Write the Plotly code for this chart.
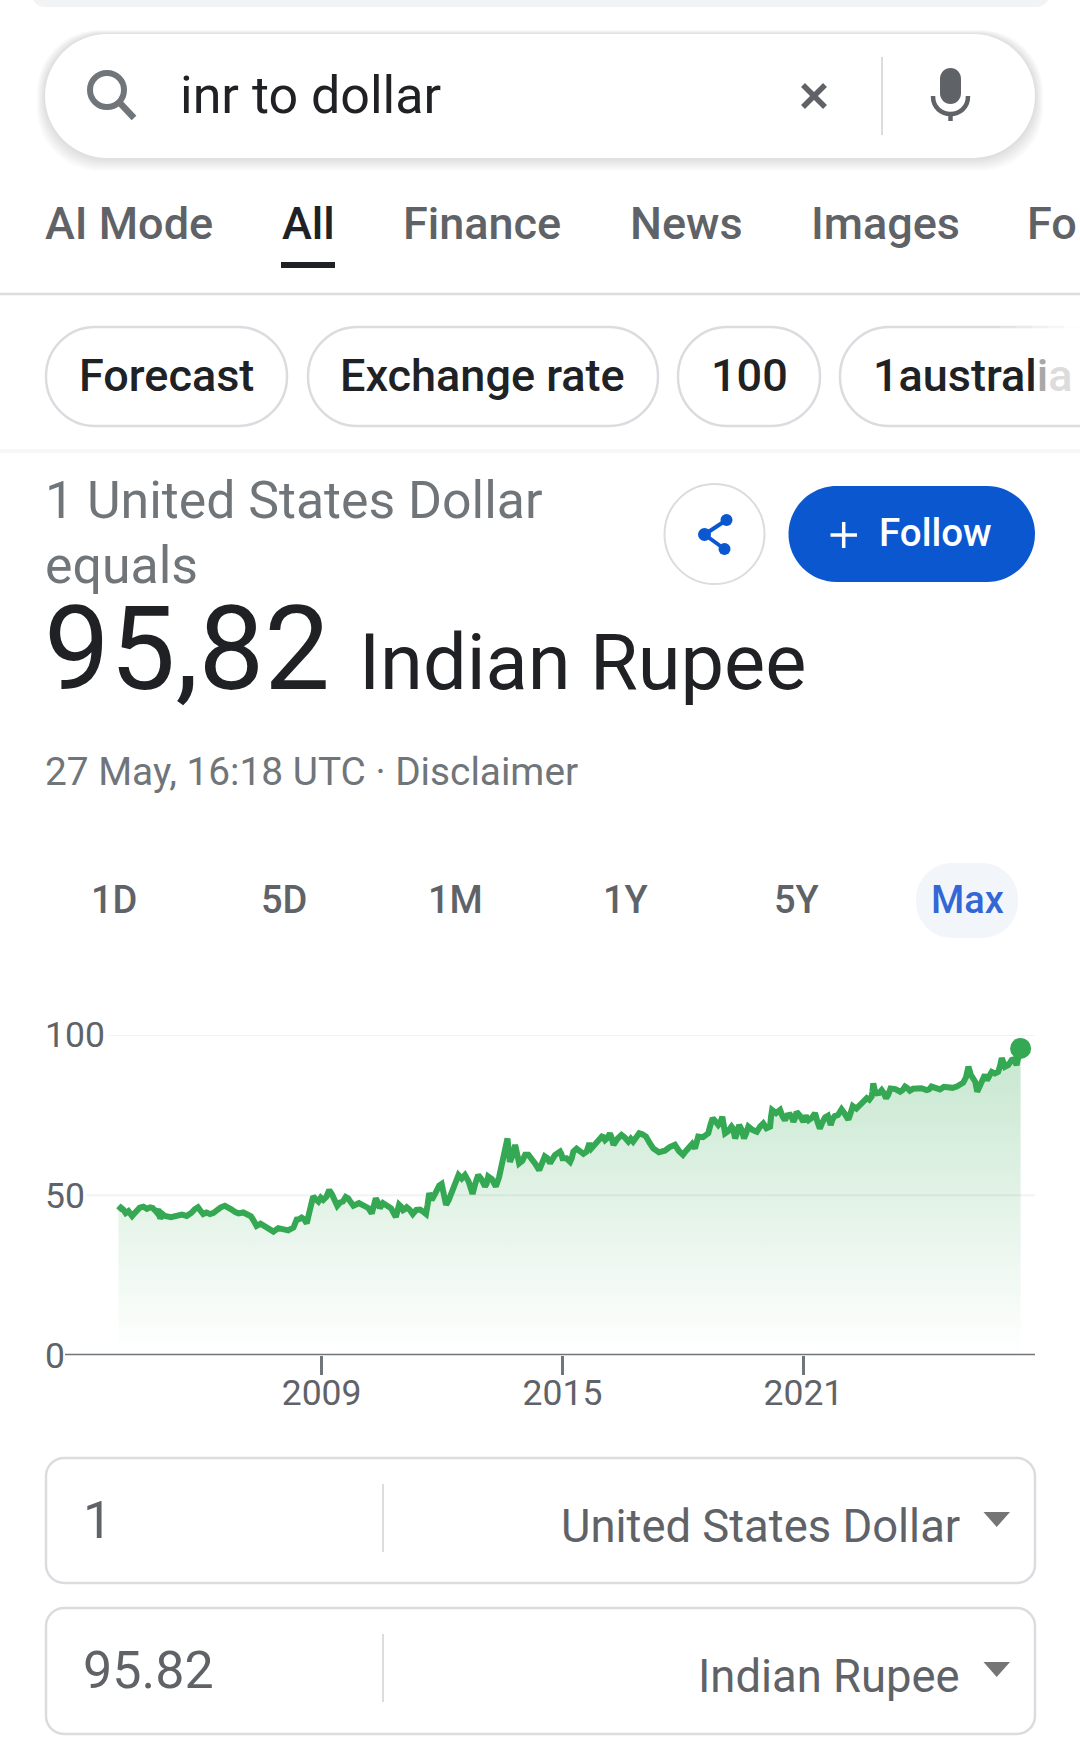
import plotly.graph_objects as go

W = 1080
H = 1750

# chart data
years = [2003.94, 2004.06, 2004.19, 2004.28, 2004.38, 2004.56, 2004.73, 2004.85, 2004.93, 2004.98,
         2005.10, 2005.39, 2005.64, 2005.76, 2005.92, 2006.05, 2006.22, 2006.39, 2006.59, 2006.76,
         2006.93, 2007.17, 2007.30, 2007.38, 2007.59, 2007.80, 2008.05, 2008.30, 2008.38, 2008.50,
         2008.63, 2008.79, 2008.92, 2009.04, 2009.19, 2009.33, 2009.39, 2009.53, 2009.66, 2009.79,
         2010.08, 2010.25, 2010.35, 2010.45, 2010.62, 2010.85, 2010.93, 2011.03, 2011.12, 2011.27,
         2011.45, 2011.60, 2011.68, 2011.74, 2011.87, 2011.99, 2012.10, 2012.24, 2012.41, 2012.57,
         2012.76, 2012.90, 2013.07, 2013.15, 2013.34, 2013.49, 2013.63, 2013.69, 2013.82, 2013.92,
         2014.07, 2014.23, 2014.42, 2014.56, 2014.69, 2014.94, 2015.00, 2015.19, 2015.27, 2015.44,
         2015.60, 2015.67, 2015.77, 2015.98, 2016.06, 2016.18, 2016.27, 2016.47, 2016.64, 2016.76,
         2016.91, 2017.08, 2017.26, 2017.55, 2017.80, 2018.00, 2018.17, 2018.30, 2018.38, 2018.63,
         2018.74, 2018.88, 2018.98, 2019.05, 2019.21, 2019.30, 2019.40, 2019.52, 2019.63, 2019.84,
         2020.00, 2020.17, 2020.22, 2020.42, 2020.54, 2020.67, 2020.75, 2020.83, 2021.00, 2021.13,
         2021.29, 2021.41, 2021.54, 2021.68, 2021.78, 2021.95, 2022.12, 2022.23, 2022.41, 2022.58,
         2022.70, 2022.74, 2022.83, 2022.95, 2023.06, 2023.17, 2023.41, 2023.53, 2023.65, 2023.82,
         2024.07, 2024.19, 2024.40, 2024.61, 2024.82, 2024.98, 2025.11, 2025.23, 2025.33, 2025.48,
         2025.57, 2025.69, 2025.85, 2025.94, 2026.02, 2026.19, 2026.31, 2026.41]
rates = [45.3, 45.5, 45.0, 43.5, 45.0, 46.4, 46.2, 45.3, 45.6, 42.7,
         43.5, 43.5, 43.5, 44.5, 46.2, 44.1, 44.1, 45.3, 46.7, 45.5,
         44.3, 44.0, 42.2, 40.4, 40.4, 38.6, 39.3, 39.9, 42.4, 43.0,
         41.2, 49.6, 48.0, 48.5, 51.6, 48.5, 46.7, 48.0, 49.0, 46.7,
         46.7, 44.3, 49.0, 46.0, 47.0, 43.2, 47.0, 45.3, 46.2, 44.1,
         45.5, 44.1, 50.6, 48.5, 51.6, 53.5, 47.0, 51.1, 56.3, 56.3,
         50.4, 56.3, 52.7, 55.8, 52.7, 60.0, 67.7, 60.4, 65.7, 59.9,
         62.6, 60.9, 57.8, 62.1, 60.0, 63.6, 61.5, 60.4, 63.6, 63.6,
         63.6, 66.2, 65.2, 68.3, 67.2, 69.3, 65.7, 68.8, 66.7, 66.7,
         69.3, 68.3, 64.6, 63.9, 65.7, 62.6, 65.2, 64.6, 68.3, 69.3,
         74.0, 71.9, 74.5, 69.3, 71.4, 67.7, 71.9, 67.7, 71.4, 69.8,
         72.4, 71.4, 76.6, 76.6, 73.4, 75.1, 72.9, 76.0, 72.9, 73.4,
         75.6, 70.8, 74.3, 71.9, 74.7, 76.8, 73.6, 77.8, 78.2, 80.3,
         80.8, 84.9, 81.8, 82.8, 80.3, 83.3, 82.3, 83.9, 82.6, 83.3,
         82.8, 83.9, 83.0, 83.6, 83.9, 85.1, 90.1, 86.4, 82.3, 87.5,
         85.9, 88.5, 88.5, 92.8, 90.1, 92.2, 90.6, 95.82]
# in-between readings, from the edges of the fuzzy band
band_years = [2004.00, 2004.12, 2004.23, 2004.33, 2004.47, 2004.65, 2004.79, 2004.89, 2004.955, 2005.04,
              2005.25, 2005.52, 2005.70, 2005.84, 2005.98, 2006.13, 2006.30, 2006.49, 2006.67, 2006.85,
              2007.05, 2007.24, 2007.34, 2007.48, 2007.70, 2007.92, 2008.17, 2008.34, 2008.44, 2008.57,
              2008.71, 2008.85, 2008.98, 2009.12, 2009.26, 2009.36, 2009.46, 2009.60, 2009.72, 2009.93,
              2010.16, 2010.30, 2010.40, 2010.53, 2010.73, 2010.89, 2010.98, 2011.07, 2011.19, 2011.36,
              2011.52, 2011.64, 2011.71, 2011.80, 2011.93, 2012.05, 2012.17, 2012.32, 2012.49, 2012.66,
              2012.83, 2012.98, 2013.11, 2013.24, 2013.42, 2013.56, 2013.66, 2013.75, 2013.87, 2014.00,
              2014.15, 2014.32, 2014.49, 2014.62, 2014.81, 2014.97, 2015.10, 2015.23, 2015.35, 2015.52,
              2015.63, 2015.72, 2015.87, 2016.02, 2016.12, 2016.22, 2016.37, 2016.55, 2016.70, 2016.83,
              2016.99, 2017.17, 2017.40, 2017.67, 2017.90, 2018.08, 2018.23, 2018.34, 2018.50, 2018.68,
              2018.81, 2018.93, 2019.01, 2019.13, 2019.25, 2019.35, 2019.46, 2019.57, 2019.73, 2019.92,
              2020.08, 2020.195, 2020.32, 2020.48, 2020.60, 2020.71, 2020.79, 2020.91, 2021.06, 2021.21,
              2021.35, 2021.47, 2021.61, 2021.73, 2021.86, 2022.03, 2022.17, 2022.32, 2022.50, 2022.64,
              2022.72, 2022.78, 2022.89, 2023.00, 2023.11, 2023.29, 2023.47, 2023.59, 2023.73, 2023.94,
              2024.13, 2024.30, 2024.50, 2024.71, 2024.90, 2025.05, 2025.17, 2025.28, 2025.40, 2025.52,
              2025.63, 2025.77, 2025.90, 2025.98, 2026.10, 2026.25, 2026.36]
band_rates = [46.1, 44.4, 44.6, 44.2, 46.1, 45.7, 46.0, 44.7, 44.2, 44.1,
              43.1, 43.9, 43.8, 45.6, 45.2, 44.6, 44.4, 46.2, 46.3, 44.7,
              44.6, 43.4, 40.9, 41.1, 39.2, 39.7, 39.0, 41.3, 42.5, 42.4,
              45.5, 48.8, 49.2, 49.5, 50.2, 47.8, 47.7, 49.4, 47.9, 47.5,
              46.0, 46.3, 47.8, 47.5, 45.9, 45.5, 46.4, 45.6, 45.5, 45.4,
              44.9, 47.0, 49.7, 49.8, 53.0, 50.3, 48.6, 54.4, 55.2, 54.3,
              53.7, 55.0, 53.6, 55.0, 55.6, 63.0, 63.6, 62.2, 62.9, 60.7,
              62.6, 59.8, 60.5, 61.6, 62.5, 62.9, 61.5, 61.5, 64.5, 62.9,
              64.8, 64.6, 67.0, 68.1, 67.9, 68.0, 67.6, 68.0, 67.6, 67.9,
              69.0, 66.3, 63.4, 65.0, 63.8, 63.9, 66.0, 66.0, 68.1, 71.7,
              73.0, 72.6, 72.3, 70.0, 70.7, 69.5, 70.5, 69.2, 70.4, 71.4,
              70.9, 74.6, 75.6, 74.6, 74.9, 74.4, 74.0, 74.9, 74.8, 74.1,
              72.9, 72.7, 74.8, 73.8, 75.0, 75.4, 75.4, 77.0, 79.9, 79.8,
              82.4, 82.7, 81.9, 81.9, 81.3, 83.1, 82.8, 83.4, 83.2, 83.4,
              83.0, 83.6, 83.8, 83.5, 84.6, 86.8, 87.6, 85.4, 84.4, 87.6,
              87.2, 88.0, 90.4, 91.5, 90.6, 92.4, 93.5]
x_ticks = [2009, 2015, 2021]
y_ticks = [0, 50, 100]
grid_values = [100, 50]

tab_labels = ['AI Mode', 'All', 'Finance', 'News', 'Images', 'Fo']
chip_labels = ['Forecast', 'Exchange rate', '100']
range_labels = ['1D', '5D', '1M', '1Y', '5Y', 'Max']

GREEN = '#34a853'
BLUE = '#0b57d0'
DARK = '#202124'
GRAY = '#5f6368'
LIGHT = '#70757a'
EDGE = '#dadce0'
FONT = 'Roboto'


def fx(x):
    return x / W


def fy(y):
    return 1 - y / H


def pt(x, y):
    return f'{fx(x):.5f},{fy(y):.5f}'


def rrect(x0, y0, x1, y1, r):
    k = r * 0.45
    return (f'M{pt(x0 + r, y0)} L{pt(x1 - r, y0)} C{pt(x1 - k, y0)} {pt(x1, y0 + k)} {pt(x1, y0 + r)} '
            f'L{pt(x1, y1 - r)} C{pt(x1, y1 - k)} {pt(x1 - k, y1)} {pt(x1 - r, y1)} '
            f'L{pt(x0 + r, y1)} C{pt(x0 + k, y1)} {pt(x0, y1 - k)} {pt(x0, y1 - r)} '
            f'L{pt(x0, y0 + r)} C{pt(x0, y0 + k)} {pt(x0 + k, y0)} {pt(x0 + r, y0)} Z')


shapes = []
annotations = []


def box(x0, y0, x1, y1, r, fill='white', line=None, width=2.5, layer='above'):
    shapes.append(dict(type='path', xref='paper', yref='paper', path=rrect(x0, y0, x1, y1, r), fillcolor=fill,
                       line=dict(color=line or fill, width=width if line else 0), layer=layer))


def seg(x0, y0, x1, y1, color, width=2.5):
    shapes.append(dict(type='line', xref='paper', yref='paper', x0=fx(x0), y0=fy(y0), x1=fx(x1), y1=fy(y1),
                       line=dict(color=color, width=width)))


def dot(cx, cy, r, fill='white', line=None, width=2.5):
    shapes.append(dict(type='circle', xref='paper', yref='paper', x0=fx(cx - r), y0=fy(cy - r), x1=fx(cx + r), y1=fy(cy + r),
                       fillcolor=fill, line=dict(color=line or fill, width=width if line else 0)))


def free(path, fill='rgba(0,0,0,0)', line=None, width=0):
    shapes.append(dict(type='path', xref='paper', yref='paper', path=path, fillcolor=fill,
                       line=dict(color=line or 'rgba(0,0,0,0)', width=width)))


def txt(x, base, s, size, color, anchor='left', weight=400):
    annotations.append(dict(xref='paper', yref='paper', x=fx(x), y=fy(base - 0.341 * size), text=s, showarrow=False,
                            xanchor=anchor, yanchor='middle', borderpad=0,
                            font=dict(family=FONT, size=size, color=color, weight=weight)))


# top card and search bar
box(31, -20, 1050, 7, 14, fill='#f1f3f4')
for i in range(8, 0, -1):
    box(45 - i, 34 - i * 0.5, 1035 + i, 158 + i * 1.6, 62, fill='rgba(60,64,67,0.018)')
box(45, 34, 1035, 158, 62)
dot(107, 90, 17, fill='rgba(0,0,0,0)', line=LIGHT, width=6)
seg(119, 102, 134, 118, LIGHT, 6.5)
txt(179, 113, 'inr to dollar', 52, DARK)
seg(803, 85, 825, 107, GRAY, 5.5)
seg(825, 85, 803, 107, GRAY, 5.5)
seg(882, 57, 882, 135, EDGE, 2)
box(940, 68, 961, 104, 10.5, fill=GRAY)
free(f'M{pt(933, 96)} C{pt(933, 120)} {pt(968, 120)} {pt(968, 96)}', line=GRAY, width=4.5)
seg(950.5, 113, 950.5, 121, GRAY, 4.5)

# tabs
tab_x = [44, 281, 402, 629, 810, 1026]
for i, label in enumerate(tab_labels):
    txt(tab_x[i], 239, label, 45, DARK if label == 'All' else GRAY, weight=500)
box(281, 262, 335, 268, 0.1, fill=DARK)
seg(0, 294, W, 294, EDGE, 2.5)

# chips
chip_edges = [(46, 287), (308, 658), (678, 820)]
chip_text_x = [78, 339, 710]
for i, label in enumerate(chip_labels):
    box(chip_edges[i][0], 327, chip_edges[i][1], 426, 49, line=EDGE)
    txt(chip_text_x[i], 391, label, 45, DARK, weight=500)
box(840, 327, 1140, 426, 49, line=EDGE)
txt(872, 391, "1austral<span style='color:#a8a8a8'>i</span><span style='color:#dcdcdc'>a</span>", 45, DARK, weight=500)
for i, xs in enumerate(range(1000, 1080, 16)):
    box(xs, 324, xs + 16, 331, 0.1, fill=f'rgba(255,255,255,{0.2 + i * 0.18:.2f})')
box(0, 449, W, 453, 0.1, fill='#f7f7f7')

# heading
txt(44, 518, '1 United States Dollar', 51.8, LIGHT)
txt(44, 583, 'equals', 51.8, LIGHT)
txt(43, 689, '95,82', 117, DARK)
txt(358, 689, 'Indian Rupee', 77.6, DARK)
txt(44, 785, '27 May, 16:18 UTC · Disclaimer', 38.8, LIGHT)

# share and follow
dot(714.5, 534, 50, line=EDGE, width=2)
seg(726.5, 520, 704.5, 534.5, BLUE, 4)
seg(704.5, 534.5, 724.5, 549, BLUE, 4)
dot(726.5, 520, 6, fill=BLUE)
dot(704.5, 534.5, 6.5, fill=BLUE)
dot(724.5, 549, 6, fill=BLUE)
box(788.5, 486, 1035, 582, 48, fill=BLUE)
seg(830.5, 535, 857, 535, 'white', 3.5)
seg(843.7, 522, 843.7, 548, 'white', 3.5)
txt(877.5, 546, 'Follow', 38.5, 'white', weight=500)

# range selector
box(916, 863, 1018, 938, 36, fill='#f2f6fb')
range_x = [113.6, 283.7, 455, 626, 796.5, 967]
for i, label in enumerate(range_labels):
    txt(range_x[i], 913, label, 38, '#3367d6' if label == 'Max' else GRAY, anchor='center', weight=500)

# converter boxes
box(46, 1458, 1035, 1583, 18, line=EDGE)
seg(383, 1484, 383, 1552, EDGE, 2)
txt(82, 1538, '1', 52, GRAY)
txt(961, 1541.5, 'United States Dollar', 45.4, GRAY, anchor='right')
free(f'M{pt(983.5, 1512)} L{pt(1010, 1512)} L{pt(996.7, 1527)} Z', fill='#757575')
box(46, 1608, 1035, 1734, 18, line=EDGE)
seg(383, 1634, 383, 1702, EDGE, 2)
txt(82, 1688, '95.82', 52, GRAY)
txt(961, 1691.5, 'Indian Rupee', 45.4, GRAY, anchor='right')
free(f'M{pt(983.5, 1662)} L{pt(1010, 1662)} L{pt(996.7, 1677)} Z', fill='#757575')

# chart frame: pixel spots of the plot, 2009 sits at 321.6 and a year is 40.15 px
PLOT_L, PLOT_R, PLOT_T, PLOT_B = 42, 1035, 1035, 1355.3
x_lo = 2009 + (PLOT_L - 321.6) / 40.15
x_hi = 2009 + (PLOT_R - 321.6) / 40.15

grid_start = [107, 86]
for i, v in enumerate(grid_values):
    shapes.append(dict(type='line', xref='paper', yref='y', x0=fx(grid_start[i]), x1=fx(PLOT_R), y0=v, y1=v,
                       line=dict(color='#f1f3f4', width=2), layer='below'))
shapes.append(dict(type='line', xref='paper', yref='y', x0=fx(65), x1=fx(PLOT_R), y0=0, y1=0,
                   line=dict(color=LIGHT, width=3)))

merged = sorted(zip(years + band_years, rates + band_rates))
line_x = [p[0] for p in merged]
line_y = [p[1] for p in merged]

fig = go.Figure()
fig.add_trace(go.Scatter(x=line_x, y=line_y, mode='lines', line=dict(color=GREEN, width=6), fill='tozeroy',
                         fillgradient=dict(type='vertical', start=0, stop=96,
                                           colorscale=[[0, 'rgba(52,168,83,0)'], [1, 'rgba(52,168,83,0.28)']]),
                         cliponaxis=False, showlegend=False, hoverinfo='skip'))
fig.add_trace(go.Scatter(x=years[-1:], y=rates[-1:], mode='markers', marker=dict(color=GREEN, size=21),
                         cliponaxis=False, showlegend=False, hoverinfo='skip'))

fig.update_layout(width=W, height=H, margin=dict(l=0, r=0, t=0, b=0), paper_bgcolor='white', plot_bgcolor='rgba(0,0,0,0)',
                  shapes=shapes, annotations=annotations,
                  xaxis=dict(domain=[fx(PLOT_L), fx(PLOT_R)], range=[x_lo, x_hi], showgrid=False, zeroline=False, showline=False,
                             automargin=False, tickmode='array', tickvals=x_ticks, ticktext=[str(t) for t in x_ticks], ticks='outside',
                             ticklen=19, tickwidth=2.5, tickcolor=LIGHT, ticklabelstandoff=-13,
                             tickfont=dict(family=FONT, size=35.5, color=GRAY)),
                  yaxis=dict(domain=[fy(PLOT_B), fy(PLOT_T)], range=[0, 100], showgrid=False, zeroline=False, showline=False,
                             automargin=False, tickmode='array', tickvals=y_ticks, ticktext=[str(t) for t in y_ticks], ticks='',
                             ticklabelposition='inside', ticklabeloverflow='allow',
                             tickfont=dict(family=FONT, size=35.5, color=GRAY)))

fig.write_html('out.html', config=dict(displayModeBar=False),
               post_script="document.body.style.margin='0';document.body.style.overflow='hidden';")
